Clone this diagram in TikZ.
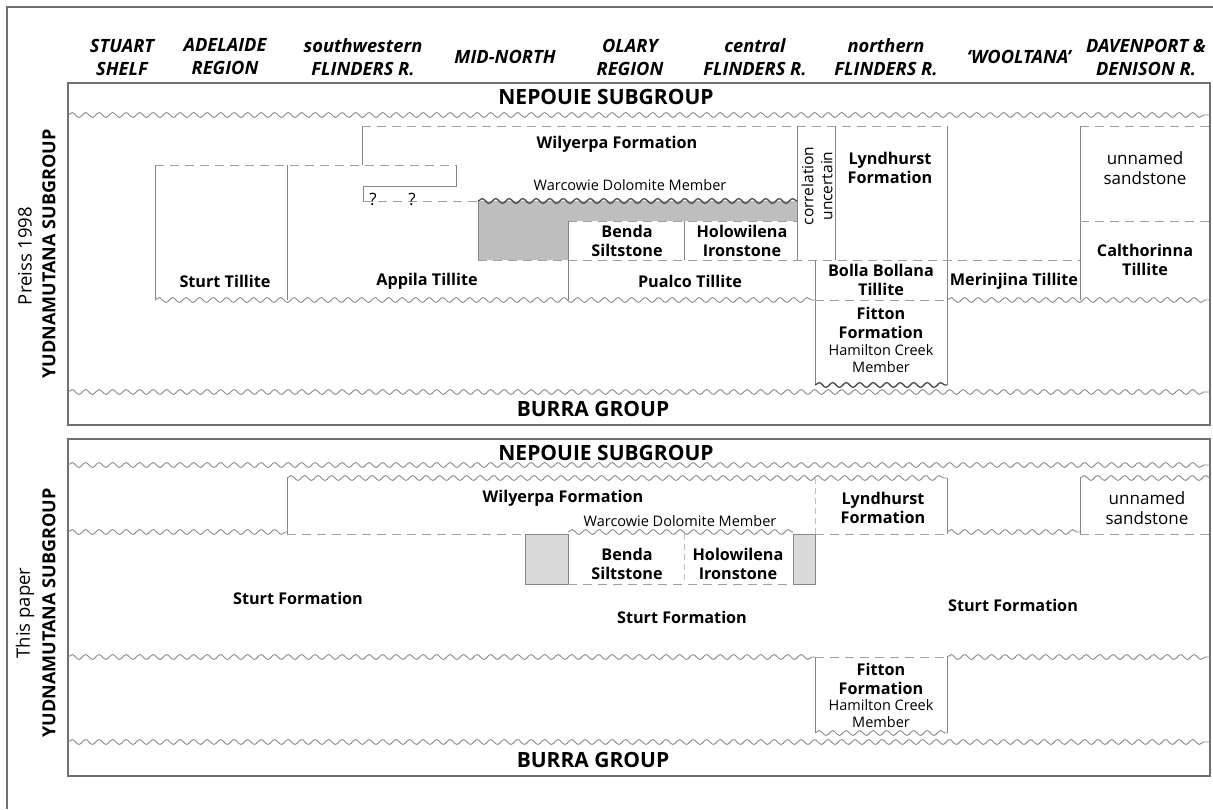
\documentclass[tikz,border=0pt]{standalone}
\usepackage{fontspec}
\setmainfont{Open Sans}
\usetikzlibrary{decorations.pathmorphing}
\definecolor{framec}{HTML}{707070}
\definecolor{lc}{HTML}{858585}
\definecolor{dc}{HTML}{A0A0A0}
\definecolor{wc}{HTML}{8A8A8A}
\definecolor{gA}{HTML}{BEBEBF}
\definecolor{gB}{HTML}{DADADA}
\begin{document}
\begin{tikzpicture}[x=1pt,y=-1pt,
  frame/.style={draw=framec, line width=1.2pt},
  bnd/.style={draw=lc, line width=1pt},
  dsh/.style={draw=dc, line width=1pt, dash pattern=on 9pt off 6pt},
  ldsh/.style={draw=dc!70, line width=0.8pt, dash pattern=on 6pt off 4pt},
  wave/.style={draw=wc, line width=0.9pt, decorate, decoration={snake, segment length=13.5pt, amplitude=2.4pt}},
  dwave/.style={draw=black!70, line width=1.3pt, decorate, decoration={snake, segment length=13.5pt, amplitude=2.4pt}},
  hdr/.style={font=\fontsize{18.3}{23}\selectfont\bfseries\itshape, align=center, inner sep=0pt},
  fm/.style={font=\fontsize{16.2}{19.5}\selectfont\bfseries, align=center, inner sep=0pt},
  reg/.style={font=\fontsize{17}{19.5}\selectfont, align=center, inner sep=0pt},
  mem/.style={font=\fontsize{14.5}{17}\selectfont, align=center, inner sep=0pt},
  big/.style={font=\fontsize{21}{24}\selectfont\bfseries, inner sep=0pt},
  side/.style={font=\fontsize{18.5}{21}\selectfont, rotate=90, inner sep=0pt},
  sideb/.style={font=\fontsize{18}{21}\selectfont\bfseries, rotate=90, inner sep=0pt}]
\useasboundingbox (0,0) rectangle (1213,809);
% outer frame
\draw[frame] (1213,7) -- (7,7) -- (7,809);
% headers
\node[hdr] (h1) at (122,57) {STUART\\SHELF};
\node[hdr] (h2) at (225,57) {ADELAIDE\\REGION};
\node[hdr] (h3) at (363,57) {southwestern\\FLINDERS R.};
\node[hdr] (h4) at (505,57) {MID-NORTH};
\node[hdr] (h5) at (630,57) {OLARY\\REGION};
\node[hdr] (h6) at (755,57) {central\\FLINDERS R.};
\node[hdr] (h7) at (886,57) {northern\\FLINDERS R.};
\node[hdr] (h8) at (1019,57) {‘WOOLTANA’};
\node[hdr] (h9) at (1146,57) {DAVENPORT \&\\DENISON R.};
% side labels
\node[side] (s1) at (25,256) {Preiss 1998};
\node[sideb] (s2) at (49,254) {YUDNAMUTANA SUBGROUP};
\node[side] (s3) at (25,613) {This paper};
\node[sideb] (s4) at (49,613) {YUDNAMUTANA SUBGROUP};

% ================= TOP PANEL =================
\draw[frame] (68,83) rectangle (1210,425);
\node[big] (nep1) at (606,97) {NEPOUIE SUBGROUP};
\node[big] (bur1) at (593,409) {BURRA GROUP};
\draw[wave] (68,115) -- (1210,115);
\draw[wave] (68,392) -- (1210,392);
% grey Warcowie area
\fill[gA] (478,201) -- (797,201) -- (797,221) -- (568,221) -- (568,260) -- (478,260) -- cycle;
\draw[bnd] (478,201) -- (478,260);
\draw[dwave] (478,201) -- (797,201);
% upper boundaries
\draw[bnd] (362,165) -- (362,126);
\draw[dsh] (362,126) -- (947,126);
\draw[bnd] (797,126) -- (797,260);
\draw[bnd] (835,126) -- (835,260);
\draw[bnd] (947,126) -- (947,385);
\draw[dsh] (1080,126) -- (1210,126);
\draw[bnd] (1080,126) -- (1080,300);
\draw[dsh] (1080,221) -- (1210,221);
% Sturt / Appila
\draw[dsh] (155,165) -- (456,165);
\draw[bnd] (155,165) -- (155,300);
\draw[bnd] (287,165) -- (287,300);
\draw[bnd] (456,165) -- (456,186) -- (363,186) -- (363,201);
\draw[dsh] (363,201) -- (478,201);
\node[reg] (q1) at (373,199) {?};
\node[reg] (q2) at (412,199) {?};
% Benda / Holowilena
\draw[dsh] (568,221) -- (797,221);
\draw[dsh] (478,260) -- (1080,260);
\draw[bnd] (568,221) -- (568,300);
\draw[bnd] (684,221) -- (684,260);
% Bolla Bollana / Fitton
\draw[bnd] (815,260) -- (815,385);
\draw[dsh] (815,300) -- (947,300);
\draw[wave] (155,300) -- (815,300);
\draw[wave] (947,300) -- (1210,300);
\draw[dwave] (815,385) -- (947,385);
% labels
\node[fm] (wil1) at (617,144) {Wilyerpa Formation};
\node[mem] (war1) at (630,185) {Warcowie Dolomite Member};
\node[reg, rotate=90, font=\fontsize{15.5}{19}\selectfont] (cor) at (817,186) {correlation\\uncertain};
\node[fm] (lyn1) at (890,168) {Lyndhurst\\Formation};
\node[reg] (uns1) at (1145,168) {unnamed\\sandstone};
\node[fm] (ben1) at (627,241) {Benda\\Siltstone};
\node[fm] (hol1) at (742,241) {Holowilena\\Ironstone};
\node[fm] (stt) at (225,281) {Sturt Tillite};
\node[fm] (app) at (427,281) {Appila Tillite};
\node[fm] (pua) at (690,281) {Pualco Tillite};
\node[fm] (bol) at (881,280) {Bolla Bollana\\Tillite};
\node[fm] (mer) at (1014,281) {Merinjina Tillite};
\node[fm] (cal) at (1145,260) {Calthorinna\\Tillite};
\node[fm] (fit1) at (881,323) {Fitton\\Formation};
\node[mem] (ham1) at (881,359) {Hamilton Creek\\Member};

% ================= BOTTOM PANEL =================
\draw[frame] (68,439) rectangle (1210,776);
\node[big] (nep2) at (606,453) {NEPOUIE SUBGROUP};
\node[big] (bur2) at (593,760) {BURRA GROUP};
\draw[wave] (68,465) -- (1210,465);
\draw[wave] (287,478) -- (947,478);
\draw[wave] (1080,478) -- (1210,478);
\draw[wave] (68,532) -- (287,532);
\draw[bnd] (287,478) -- (287,534);
\draw[dsh] (287,534) -- (525,534);
% grey boxes
\filldraw[fill=gB, draw=lc, line width=1pt] (525,534) rectangle (568,584);
\filldraw[fill=gB, draw=lc, line width=1pt] (793,534) rectangle (815,584);
\draw[wave] (568,532) -- (793,532);
\draw[dsh] (568,584) -- (793,584);
\draw[ldsh] (684,534) -- (684,584);
% Lyndhurst / unnamed sandstone
\draw[ldsh] (815,478) -- (815,534);
\draw[bnd] (947,478) -- (947,534);
\draw[dsh] (815,534) -- (947,534);
\draw[wave] (947,532) -- (1080,532);
\draw[bnd] (1080,478) -- (1080,534);
\draw[dsh] (1080,534) -- (1210,534);
% lower part
\draw[wave] (68,657) -- (815,657);
\draw[wave] (947,657) -- (1210,657);
\draw[dsh] (815,657) -- (947,657);
\draw[bnd] (815,657) -- (815,733);
\draw[bnd] (947,657) -- (947,733);
\draw[wave] (815,733) -- (947,733);
\draw[wave] (68,742) -- (1210,742);
% labels
\node[fm] (wil2) at (563,498) {Wilyerpa Formation};
\node[mem] (war2) at (680,521) {Warcowie Dolomite Member};
\node[fm] (ben2) at (627,564) {Benda\\Siltstone};
\node[fm] (hol2) at (738,564) {Holowilena\\Ironstone};
\node[fm] (lyn2) at (883,508) {Lyndhurst\\Formation};
\node[reg] (uns2) at (1147,508) {unnamed\\sandstone};
\node[fm] (stf1) at (298,598) {Sturt Formation};
\node[fm] (stf2) at (682,617) {Sturt Formation};
\node[fm] (stf3) at (1013,605) {Sturt Formation};
\node[fm] (fit2) at (881,679) {Fitton\\Formation};
\node[mem] (ham2) at (881,714) {Hamilton Creek\\Member};
\end{tikzpicture}
\end{document}
